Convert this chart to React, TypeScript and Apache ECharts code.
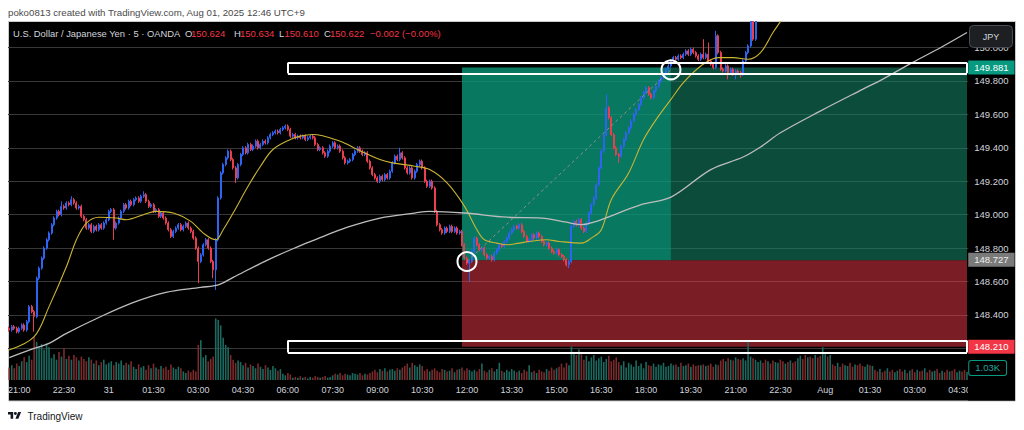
import React, { useEffect, useRef } from "react";
import * as echarts from "echarts";

const FONT = "'Liberation Sans', Arial, sans-serif";

// ---------- time axis (5-minute bars, starting Jul 30 20:40) ----------
const START_MINUTE = 20 * 60 + 40;
const BAR_MINUTES = 5;
const BAR_COUNT = 386;
const DAY_NAMES = ["30", "31", "Aug"];
const FIRST_LABEL_INDEX = 4;
const LABEL_STEP = 18;

const categories: string[] = Array.from({ length: BAR_COUNT }, (_, i) => {
  const t = START_MINUTE + i * BAR_MINUTES;
  const day = Math.floor(t / 1440);
  const m = t % 1440;
  if (m === 0) return DAY_NAMES[day];
  const hh = String(Math.floor(m / 60)).padStart(2, "0");
  const mm = String(m % 60).padStart(2, "0");
  return `${hh}:${mm}`;
});

// ---------- price data (closes per bar) ----------
const firstOpen = 148.32;
const closes = [
  148.31, 148.33, 148.32, 148.30, 148.32, 148.34, 148.31, 148.36, 148.45, 148.42,
  148.39, 148.62, 148.68, 148.74, 148.80, 148.85, 148.89, 148.94, 148.98, 149.02,
  149.00, 149.05, 149.04, 149.07, 149.06, 149.09, 149.07, 149.04, 149.05, 148.99,
  148.97, 148.92, 148.94, 148.90, 148.93, 148.91, 148.94, 148.92, 148.95, 148.97,
  149.02, 149.03, 148.92, 148.95, 148.98, 149.02, 149.06, 149.04, 149.08, 149.06,
  149.09, 149.10, 149.08, 149.11, 149.12, 149.08, 149.05, 149.06, 149.02, 149.03,
  148.99, 149.01, 148.98, 148.95, 148.91, 148.87, 148.90, 148.92, 148.94, 148.91,
  148.93, 148.95, 148.92, 148.90, 148.86, 148.80, 148.72, 148.76, 148.82, 148.85,
  148.80, 148.72, 148.67, 148.85, 149.10, 149.25, 149.30, 149.34, 149.38, 149.33,
  149.28, 149.22, 149.30, 149.36, 149.40, 149.37, 149.42, 149.39, 149.41, 149.44,
  149.40, 149.42, 149.44, 149.43, 149.46, 149.48, 149.49, 149.50, 149.49, 149.51,
  149.52, 149.53, 149.51, 149.47, 149.48, 149.46, 149.47, 149.46, 149.47, 149.45,
  149.46, 149.47, 149.46, 149.42, 149.39, 149.40, 149.37, 149.35, 149.38, 149.41,
  149.43, 149.40, 149.41, 149.38, 149.34, 149.31, 149.32, 149.33, 149.36, 149.38,
  149.40, 149.38, 149.36, 149.37, 149.32, 149.28, 149.24, 149.22, 149.20, 149.23,
  149.21, 149.24, 149.22, 149.26, 149.31, 149.35, 149.33, 149.37, 149.34, 149.28,
  149.25, 149.28, 149.22, 149.26, 149.30, 149.32, 149.28, 149.20, 149.17, 149.20,
  149.16, 149.02, 148.94, 148.91, 148.89, 148.92, 148.90, 148.93, 148.90, 148.92,
  148.89, 148.90, 148.82, 148.74, 148.71, 148.72, 148.78, 148.86, 148.82, 148.79,
  148.80, 148.76, 148.74, 148.75, 148.73, 148.77, 148.79, 148.82, 148.81, 148.84,
  148.86, 148.89, 148.91, 148.93, 148.92, 148.94, 148.90, 148.87, 148.84, 148.85,
  148.88, 148.86, 148.89, 148.87, 148.84, 148.82, 148.83, 148.80, 148.78, 148.77,
  148.79, 148.76, 148.75, 148.73, 148.70, 148.72, 148.93, 148.96, 148.94, 148.97,
  148.92, 148.90, 148.95, 149.01, 149.06, 149.10, 149.18, 149.28, 149.38, 149.48,
  149.64, 149.58, 149.48, 149.40, 149.36, 149.35, 149.41, 149.45, 149.49, 149.52,
  149.56, 149.60, 149.63, 149.66, 149.70, 149.73, 149.76, 149.72, 149.70, 149.74,
  149.77, 149.80, 149.82, 149.84, 149.87, 149.89, 149.92, 149.94, 149.93, 149.95,
  149.94, 149.96, 149.98, 149.96, 149.99, 149.97, 149.95, 149.93, 149.96, 149.94,
  149.96, 149.92, 149.90, 149.88, 150.07, 149.97, 149.87, 149.86, 149.89, 149.85,
  149.87, 149.84, 149.86, 149.85, 149.84, 149.92, 149.97, 150.01, 150.17, 150.05,
  150.22, 150.30,
];
const highOverrides: Record<number, number> = {
  21: 149.08, 25: 149.11, 54: 149.14, 111: 149.54, 157: 149.40, 240: 149.72,
  279: 150.05, 281: 150.03, 284: 150.10,
};
const lowOverrides: Record<number, number> = {
  10: 148.30, 42: 148.85, 76: 148.59, 82: 148.62, 83: 148.55, 91: 149.19, 148: 149.19,
  185: 148.60, 225: 148.68, 245: 149.31, 289: 149.81, 292: 149.81, 294: 149.82,
};
const WICK = 0.01;

// ---------- volume (thousands) ----------
const volumesK = [
  1.6, 1.9, 1.5, 2.1, 1.8, 2.4, 2.9, 2.3, 3.1, 2.6,
  5.5, 4.9, 4.3, 4.6, 3.9, 4.7, 4.2, 2.8, 3.3, 2.6,
  3.6, 3.0, 4.1, 2.7, 3.1, 2.6, 3.2, 2.9, 2.5, 3.0,
  2.7, 2.4, 2.9, 2.6, 2.1, 2.5, 1.9, 2.3, 2.6, 2.0,
  2.2, 2.4, 1.9, 2.3, 2.1, 2.5, 1.9, 2.2, 2.0, 2.4,
  1.7, 1.4, 2.0, 1.6, 1.8, 1.3, 1.9, 1.5, 2.1, 1.6,
  1.4, 1.8, 1.5, 1.7, 1.3, 2.0, 1.6, 1.4, 1.7, 1.5,
  1.1, 0.9, 1.2, 1.0, 1.3, 1.1, 4.5, 5.1, 2.9, 3.2,
  2.4, 2.7, 3.0, 7.9, 7.7, 7.0, 5.4, 4.5, 4.2, 3.2,
  2.6, 2.2, 2.5, 2.3, 1.9, 2.2, 1.6, 2.0, 1.8, 1.5,
  2.1, 1.7, 1.4, 1.9, 1.6, 1.3, 1.8, 1.5, 1.2, 1.4,
  0.8, 0.6, 0.9, 0.7, 0.3, 0.4, 0.3, 0.5, 0.3, 0.4,
  0.2, 0.4, 0.3, 0.5, 0.4, 0.3, 0.4, 0.5, 0.3, 0.4,
  0.6, 0.8, 0.7, 0.9, 0.6, 0.8, 0.7, 0.6, 0.9, 0.8,
  0.7, 0.9, 0.6, 0.8, 0.7, 0.9, 1.1, 1.3, 1.0, 1.4,
  1.2, 1.5, 1.1, 1.3, 1.4, 1.2, 1.5, 1.3, 1.6, 1.8,
  2.1, 1.6, 2.2, 1.9, 1.7, 2.0, 1.8, 1.2, 1.4, 1.1,
  1.3, 1.5, 1.2, 1.0, 1.4, 1.3, 1.1, 1.2, 1.5, 1.0,
  1.3, 1.4, 1.6, 1.2, 1.5, 1.3, 1.1, 1.3, 1.1, 1.4,
  2.1, 1.2, 1.0, 1.3, 1.5, 1.1, 1.4, 2.2, 1.2, 1.0,
  1.3, 1.1, 1.4, 1.2, 1.0, 1.2, 0.9, 1.3, 1.1, 1.9,
  1.0, 1.2, 0.9, 1.3, 1.1, 1.0, 1.4, 1.2, 1.6, 1.3,
  1.5, 1.7, 2.1, 1.6, 2.2, 1.9, 4.3, 3.6, 3.2, 3.9,
  3.3, 2.6, 3.1, 2.4, 2.9, 3.2, 2.5, 2.8, 3.0, 2.3,
  2.7, 3.1, 2.4, 2.6, 2.9, 2.3, 1.9, 2.4, 1.6, 2.2,
  2.0, 1.7, 2.5, 1.8, 2.1, 1.5, 2.3, 1.9, 1.8, 2.1,
  1.7, 2.0, 1.9, 2.2, 1.7, 1.8, 2.1, 1.9, 2.0, 1.7,
  2.2, 1.8, 1.9, 2.1, 1.7, 2.0, 1.8, 1.9, 1.9, 2.0,
  1.8, 1.9, 2.1, 1.7, 2.0, 1.9, 2.5, 2.7, 2.4, 2.8,
  2.6, 2.5, 2.9, 2.7, 2.6, 2.8, 2.5, 4.9, 3.0, 2.8,
  2.6, 2.3, 2.5, 2.2, 2.6, 2.4, 2.1, 2.5, 2.3, 2.2,
  2.6, 2.4, 2.1, 2.3, 2.5, 2.2, 2.4, 2.8, 3.1, 2.7,
  3.2, 2.9, 3.0, 2.8, 3.2, 2.9, 3.1, 4.2, 3.3, 3.0,
  3.2, 2.0, 1.8, 2.2, 1.7, 2.1, 1.9, 1.8, 2.2, 1.7,
  2.0, 1.9, 2.1, 1.8, 1.7, 2.0, 1.9, 1.8, 1.3, 1.1,
  1.4, 1.0, 1.2, 1.5, 1.1, 1.3, 1.0, 1.2, 1.4, 1.1,
  1.3, 0.9, 1.2, 1.4, 1.0, 1.3, 1.1, 1.2, 1.5, 1.0,
  1.3, 1.1, 1.2, 1.4, 0.9, 1.2, 1.0, 1.3, 1.1, 1.2,
  1.4, 1.0, 1.2, 1.1, 1.3, 1.03,
];
// direction of bars whose candles are above the visible range (u = up, d = down)
const tailDirections =
  "uddudduuddududduudduddudduududdudduudduddduududduddudduuddududduddudduudduddudduuddu";

// ---------- moving averages, sampled [barIndex, price] ----------
const yellowMA: [number, number][] = [
  [0, 148.19], [10, 148.27], [16, 148.45], [23, 148.69], [27, 148.85], [31, 148.95],
  [36, 148.985], [43, 148.98], [47, 148.97], [54, 149.0], [59, 149.02], [66, 149.01],
  [73, 148.96], [78, 148.89], [83, 148.85], [86, 148.91], [90, 149.01], [96, 149.17],
  [101, 149.29], [106, 149.39], [113, 149.45], [117, 149.47], [122, 149.48], [133, 149.44],
  [140, 149.39], [149, 149.33], [154, 149.31], [163, 149.29], [169, 149.27], [176, 149.19],
  [183, 149.05], [188, 148.91], [191, 148.85], [196, 148.83], [200, 148.82], [205, 148.83],
  [209, 148.84], [216, 148.85], [221, 148.84], [230, 148.83], [234, 148.86], [238, 148.91],
  [242, 149.09], [249, 149.25], [255, 149.45], [261, 149.59], [266, 149.69], [271, 149.79],
  [278, 149.89], [285, 149.94], [291, 149.94], [297, 149.93], [302, 149.97], [307, 150.09],
  [310, 150.155], [313, 150.22],
];
const grayMA: [number, number][] = [
  [0, 148.145], [10, 148.2], [16, 148.23], [23, 148.29], [36, 148.385], [50, 148.475],
  [63, 148.535], [77, 148.565], [84, 148.58], [90, 148.625], [104, 148.73], [117, 148.815],
  [122, 148.845], [136, 148.925], [149, 148.98], [163, 149.01], [169, 149.02], [183, 149.01],
  [200, 148.985], [214, 148.98], [224, 148.955], [230, 148.94], [235, 148.955], [254, 149.06],
  [266, 149.105], [282, 149.27], [295, 149.345], [302, 149.405], [310, 149.49], [326, 149.62],
  [343, 149.75], [351, 149.81], [363, 149.91], [375, 150.005], [385, 150.09],
];

// ---------- position tool levels ----------
const ENTRY_INDEX = 182;
const ENTRY_PRICE = 148.727;
const TARGET_PRICE = 149.881;
const STOP_PRICE = 148.21;
const HIT_INDEX = 266;
const ZONE_END_INDEX = 385;
const entryMark: [number, number] = [184, 148.72];
const exitMark: [number, number] = [266, 149.867];
const boxStartIndex = 112;
const upperBox = [149.909, 149.846];
const lowerBox = [148.248, 148.176];
const LAST_VOLUME = 1.03;

const TV_LOGO_PATH =
  "M14 22H7V11H0V4h14v18zM28 22h-8l7.5-18h8L28 22zM24 8a4 4 0 1 1-8 0a4 4 0 1 1 8 0z";
echarts.graphic.registerShape("tvlogo", echarts.graphic.extendPath(TV_LOGO_PATH, {}));

const UP = "#2e64f2";
const DOWN = "#ea3e51";
const VOL_UP = "#1c6a5f";
const VOL_DOWN = "#7c2a2b";
const HIDDEN_LINE = { color: "rgba(0,0,0,0)", width: 1, type: "solid" };

function boxLines(y0: number, y1: number) {
  const st = { lineStyle: { color: "#ffffff", width: 2, type: "solid" }, label: { show: false } };
  return [
    [{ coord: [boxStartIndex, y0], ...st }, { coord: [ZONE_END_INDEX, y0] }],
    [{ coord: [boxStartIndex, y1], ...st }, { coord: [ZONE_END_INDEX, y1] }],
    [{ coord: [boxStartIndex, y0], ...st }, { coord: [boxStartIndex, y1] }],
    [{ coord: [ZONE_END_INDEX, y0], ...st }, { coord: [ZONE_END_INDEX, y1] }],
  ];
}

function badge(value: number, text: string, bg: string, fg: string) {
  return {
    yAxis: value,
    lineStyle: HIDDEN_LINE,
    label: {
      show: true,
      opacity: 1,
      position: "end",
      distance: 0,
      formatter: text,
      backgroundColor: bg,
      color: fg,
      fontSize: 9.5,
      fontFamily: FONT,
      lineHeight: 10,
      padding: [2, 6, 2, 6],
    },
  };
}

export default function App() {
  const ref = useRef<HTMLDivElement>(null);

  useEffect(() => {
    if (!ref.current) return;
    const chart = echarts.init(ref.current, undefined, { renderer: "svg" });

    const candleData = closes.map((c, i) => {
      const o = i === 0 ? firstOpen : closes[i - 1];
      const hi = highOverrides[i] ?? Math.max(o, c) + WICK;
      const lo = lowOverrides[i] ?? Math.min(o, c) - WICK;
      return [o, c, lo, hi];
    });

    const volumeData = volumesK.map((v, i) => {
      const up =
        i < candleData.length
          ? candleData[i][1] >= candleData[i][0]
          : tailDirections.charAt(i - candleData.length) !== "d";
      return { value: v, itemStyle: { color: up ? VOL_UP : VOL_DOWN } };
    });

    const textStyle = (size: number, fill: string) => ({
      font: `${size}px ${FONT}`,
      fill,
      verticalAlign: "middle",
      align: "left",
    });

    const option: any = {
      animation: false,
      backgroundColor: "#ffffff",
      grid: [
        { left: 8, right: 55.76, top: 14.13, height: 367.7, containLabel: false, outerBoundsMode: "none" },
        { left: 8, right: 55.76, bottom: 50, height: 80, containLabel: false, outerBoundsMode: "none" },
      ],
      xAxis: [
        {
          type: "category",
          gridIndex: 0,
          data: categories,
          axisLine: { show: false },
          axisTick: { show: false },
          axisLabel: { show: false },
          splitLine: { show: false },
        },
        {
          type: "category",
          gridIndex: 1,
          data: categories,
          axisLine: { show: false },
          axisTick: { show: false },
          splitLine: { show: false },
          axisLabel: {
            interval: (index: number) =>
              index >= FIRST_LABEL_INDEX && (index - FIRST_LABEL_INDEX) % LABEL_STEP === 0,
            color: "#d1d4dc",
            fontSize: 9,
            fontFamily: FONT,
            margin: 5,
          },
        },
      ],
      yAxis: [
        {
          type: "value",
          gridIndex: 0,
          position: "right",
          min: 148,
          max: 150.2,
          interval: 0.2,
          axisLine: { show: false },
          axisTick: { show: false },
          axisLabel: {
            color: "#d1d4dc",
            fontSize: 9.5,
            fontFamily: FONT,
            margin: 6,
            showMinLabel: false,
            showMaxLabel: false,
            formatter: (v: number) => {
              const k = Math.round(v * 10);
              if (k === 1480 || k === 1482 || k === 1502) return "";
              return v.toFixed(3);
            },
          },
          splitLine: {
            show: true,
            showMinLine: false,
            showMaxLine: false,
            lineStyle: { color: "#383838", width: 1 },
          },
        },
        { type: "value", gridIndex: 1, min: 0, max: 10.25, show: false, splitLine: { show: false } },
      ],
      series: [
        {
          type: "candlestick",
          name: "USDJPY",
          xAxisIndex: 0,
          yAxisIndex: 0,
          data: candleData,
          barWidth: 1.5,
          z: 3,
          silent: true,
          itemStyle: {
            color: UP,
            color0: DOWN,
            borderColor: UP,
            borderColor0: DOWN,
            borderWidth: 1,
          },
          markArea: {
            silent: true,
            label: { show: false },
            data: [
              [
                { xAxis: ENTRY_INDEX, yAxis: TARGET_PRICE, itemStyle: { color: "rgba(10,150,120,0.8)" } },
                { xAxis: HIT_INDEX, yAxis: ENTRY_PRICE },
              ],
              [
                { xAxis: HIT_INDEX, yAxis: TARGET_PRICE, itemStyle: { color: "rgba(22,136,105,0.56)" } },
                { xAxis: ZONE_END_INDEX, yAxis: ENTRY_PRICE },
              ],
              [
                { xAxis: ENTRY_INDEX, yAxis: ENTRY_PRICE, itemStyle: { color: "rgba(244,58,74,0.5)" } },
                { xAxis: ZONE_END_INDEX, yAxis: STOP_PRICE },
              ],
            ],
          },
          markLine: {
            silent: true,
            symbol: ["none", "none"],
            label: { show: false },
            data: [
              [
                {
                  coord: entryMark,
                  lineStyle: { color: "#8f8f8f", width: 1, type: [3, 3] },
                  label: { show: false },
                },
                { coord: exitMark },
              ],
              ...boxLines(upperBox[0], upperBox[1]),
              ...boxLines(lowerBox[0], lowerBox[1]),
              badge(TARGET_PRICE, "149.881", "#089981", "#ffffff"),
              badge(ENTRY_PRICE, "148.727", "#7a7a7a", "#eeeeee"),
              badge(STOP_PRICE, "148.210", "#f23645", "#ffffff"),
            ],
          },
          markPoint: {
            silent: true,
            symbol: "circle",
            symbolSize: 19,
            label: { show: false },
            itemStyle: { color: "rgba(0,0,0,0)", borderColor: "#ffffff", borderWidth: 2 },
            data: [{ coord: entryMark }, { coord: exitMark }],
          },
        },
        {
          type: "line",
          name: "MA fast",
          xAxisIndex: 0,
          yAxisIndex: 0,
          data: yellowMA,
          showSymbol: false,
          symbol: "none",
          smooth: 0.35,
          silent: true,
          z: 4,
          lineStyle: { color: "#cbb533", width: 1.1 },
        },
        {
          type: "line",
          name: "MA slow",
          xAxisIndex: 0,
          yAxisIndex: 0,
          data: grayMA,
          showSymbol: false,
          symbol: "none",
          smooth: 0.35,
          silent: true,
          z: 4,
          lineStyle: { color: "#bdbdbd", width: 1.3 },
        },
        {
          type: "bar",
          name: "Volume",
          xAxisIndex: 1,
          yAxisIndex: 1,
          data: volumeData,
          barWidth: 1.6,
          silent: true,
          z: 2,
          markLine: {
            silent: true,
            symbol: ["none", "none"],
            data: [
              {
                yAxis: LAST_VOLUME,
                lineStyle: HIDDEN_LINE,
                label: {
                  show: true,
                  opacity: 1,
                  position: "end",
                  distance: 1,
                  offset: [0, -4],
                  formatter: "1.03K",
                  color: "#26a69a",
                  backgroundColor: "#000000",
                  borderColor: "#089981",
                  borderWidth: 1,
                  borderRadius: 2,
                  fontSize: 9.5,
                  fontFamily: FONT,
                  lineHeight: 10,
                  padding: [2, 6, 2, 6],
                },
              },
            ],
          },
        },
      ],
      graphic: [
        {
          type: "rect",
          z: -5,
          silent: true,
          shape: { x: 8.5, y: 21.5, width: 1007, height: 379.5 },
          style: { fill: "#000000", stroke: "#c9c9c9", lineWidth: 1 },
        },
        {
          type: "rect",
          z: 100,
          silent: true,
          shape: { x: 0, y: 0, width: 1024, height: 21 },
          style: { fill: "#ffffff" },
        },
        {
          type: "rect",
          z: 50,
          silent: true,
          shape: { x: 968, y: 381, width: 47, height: 19.5 },
          style: { fill: "#000000" },
        },
        {
          type: "text",
          z: 101,
          x: 8,
          y: 12.5,
          style: { text: "poko0813 created with TradingView.com, Aug 01, 2025 12:46 UTC+9", ...textStyle(9.7, "#4a4a4a") },
        },
        {
          type: "text",
          z: 101,
          x: 13,
          y: 33,
          style: { text: "U.S. Dollar / Japanese Yen · 5 · OANDA", ...textStyle(9.4, "#d1d4dc") },
        },
        { type: "text", z: 101, x: 185, y: 33, style: { text: "O", ...textStyle(9.5, "#d1d4dc") } },
        { type: "text", z: 101, x: 191, y: 33, style: { text: "150.624", ...textStyle(9.5, "#f23645") } },
        { type: "text", z: 101, x: 234, y: 33, style: { text: "H", ...textStyle(9.5, "#d1d4dc") } },
        { type: "text", z: 101, x: 240, y: 33, style: { text: "150.634", ...textStyle(9.5, "#f23645") } },
        { type: "text", z: 101, x: 279, y: 33, style: { text: "L", ...textStyle(9.5, "#d1d4dc") } },
        { type: "text", z: 101, x: 284.5, y: 33, style: { text: "150.610", ...textStyle(9.5, "#f23645") } },
        { type: "text", z: 101, x: 324, y: 33, style: { text: "C", ...textStyle(9.5, "#d1d4dc") } },
        { type: "text", z: 101, x: 330, y: 33, style: { text: "150.622", ...textStyle(9.5, "#f23645") } },
        { type: "text", z: 101, x: 370, y: 33, style: { text: "−0.002 (−0.00%)", ...textStyle(9.5, "#f23645") } },
        {
          type: "rect",
          z: 101,
          silent: true,
          shape: { x: 969.5, y: 25.5, width: 43, height: 22, r: 4 },
          style: { fill: "#1e1f23", stroke: "#4a4d55", lineWidth: 1 },
        },
        {
          type: "text",
          z: 102,
          x: 991,
          y: 36.5,
          style: { text: "JPY", font: `9px ${FONT}`, fill: "#d1d4dc", align: "center", verticalAlign: "middle" },
        },
        {
          type: "tvlogo",
          z: 101,
          x: 8,
          y: 410.5,
          scaleX: 0.37,
          scaleY: 0.37,
          style: { fill: "#131722" },
        },
        {
          type: "text",
          z: 101,
          x: 27.5,
          y: 416.5,
          style: { text: "TradingView", ...textStyle(10, "#131722") },
        },
      ],
    };

    chart.setOption(option);
    return () => {
      chart.dispose();
    };
  }, []);

  return (
    <div
      ref={ref}
      style={{ position: "fixed", left: 0, top: 0, width: 1024, height: 430, background: "#ffffff" }}
    />
  );
}
